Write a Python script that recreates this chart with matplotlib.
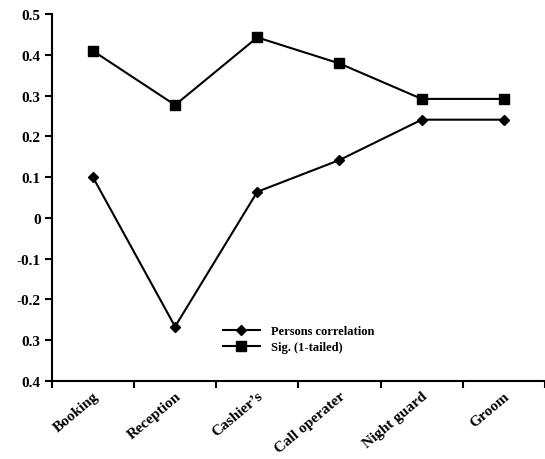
import matplotlib.pyplot as plt
import matplotlib.transforms as mtransforms
import numpy as np

categories = ['Booking', 'Reception', 'Cashier\u2019s', 'Call operater', 'Night guard', 'Groom']
persons_corr = [0.10, -0.267, 0.064, 0.142, 0.241, 0.241]
sig_1tailed = [0.41, 0.277, 0.443, 0.379, 0.292, 0.292]
ytick_vals = [0.5, 0.4, 0.3, 0.2, 0.1, 0, -0.1, -0.2, -0.3, -0.4]
ytick_labels = ['0.5', '0.4', '0.3', '0.2', '0.1', '0', '-0.1', '-0.2', '0.3', '0.4']

plt.rcParams['font.family'] = ['Liberation Serif', 'DejaVu Serif']
plt.rcParams['font.weight'] = 'bold'

fig = plt.figure(figsize=(5.45, 4.6), dpi=100)
ax = fig.add_axes([0.095, 0.17, 0.905, 0.797])

x = np.arange(len(categories))
ax.plot(x, persons_corr, color='black', lw=1.5, marker='D', markersize=5, label='Persons correlation')
ax.plot(x, sig_1tailed, color='black', lw=1.5, marker='s', markersize=6.5, label='Sig. (1-tailed)')

ax.set_xlim(-0.5, 5.42)
ax.set_ylim(-0.4, 0.5)
ax.set_yticks(ytick_vals)
ax.set_yticklabels(ytick_labels, fontsize=11, fontweight='bold')

# category ticks sit on the boundaries, labels in the middle
ax.set_xticks(np.arange(len(categories) + 1) - 0.5)
ax.set_xticklabels([])
ax.set_xticks(x, minor=True)
ax.set_xticklabels(categories, minor=True, rotation=40, ha='right', va='top',
                   rotation_mode='anchor', fontsize=11, fontweight='bold')
offset = mtransforms.ScaledTranslation(13 / 100, 0, fig.dpi_scale_trans)
for lab in ax.get_xticklabels(minor=True):
    lab.set_transform(lab.get_transform() + offset)
ax.tick_params(axis='x', which='minor', length=0, pad=6)
ax.tick_params(axis='both', which='major', direction='out', length=5, width=1.5, pad=3)

for s in ['top', 'right']:
    ax.spines[s].set_visible(False)
for s in ['left', 'bottom']:
    ax.spines[s].set_linewidth(1.5)

ax.legend(loc='upper left', bbox_to_anchor=(0.335, 0.168), frameon=False,
          prop={'size': 9, 'weight': 'bold'}, handlelength=2.9, handletextpad=0.9,
          labelspacing=0.3, borderpad=0)

plt.savefig('out.png', dpi=100)
plt.close()
